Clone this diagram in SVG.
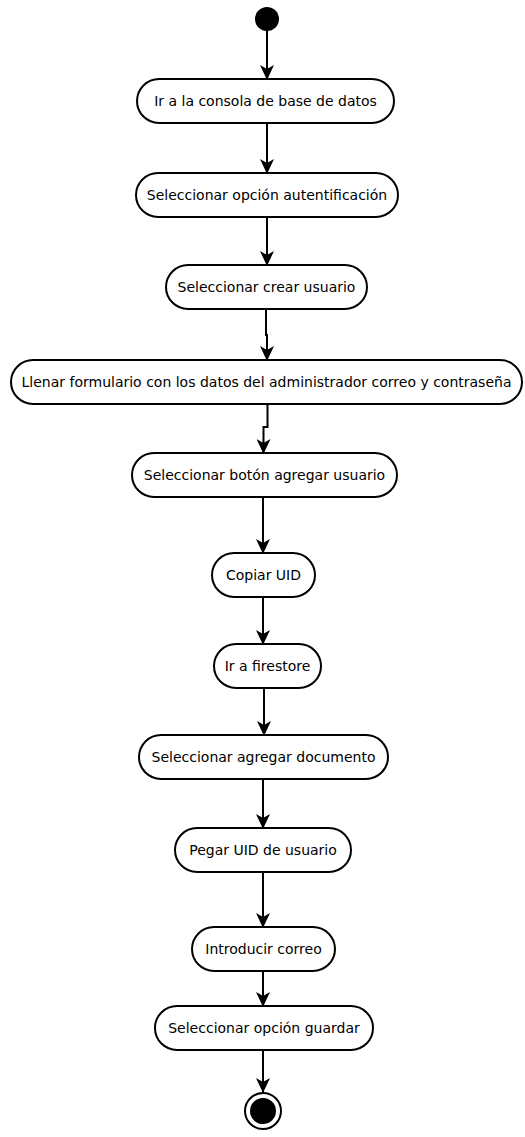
<svg xmlns="http://www.w3.org/2000/svg" width="525" height="1137" viewBox="0 0 525 1137">
  <style>
    .node rect { fill: #ffffff; stroke: #000000; stroke-width: 2; }
    .node text { font-family: "DejaVu Sans", Verdana, sans-serif; font-size: 14px; fill: #000000; text-anchor: middle; dominant-baseline: central; }
    .edge { fill: none; stroke: #000000; stroke-width: 2; marker-end: url(#arrow); }
  </style>
  <defs>
    <marker id="arrow" viewBox="0 0 15 14" refX="14" refY="7" markerWidth="15" markerHeight="14" markerUnits="userSpaceOnUse" orient="auto">
      <path d="M0,0 L15,7 L0,14 L4,7 z" fill="#000000"/>
    </marker>
  </defs>
  <rect width="525" height="1137" fill="#ffffff"/>

  <!-- connectors -->
  <g id="edges">
    <path class="edge" d="M267,31 V79"/>
    <path class="edge" d="M267,123 V173"/>
    <path class="edge" d="M267,217 V265"/>
    <path class="edge" d="M266,309 V335 H267 V360"/>
    <path class="edge" d="M267.5,404 V427 H263.5 V453"/>
    <path class="edge" d="M263,497 V553"/>
    <path class="edge" d="M263,597 V644"/>
    <path class="edge" d="M264,688 V735"/>
    <path class="edge" d="M263,779 V828"/>
    <path class="edge" d="M263,872 V927"/>
    <path class="edge" d="M263,971 V1006"/>
    <path class="edge" d="M263,1050 V1092"/>
  </g>

  <!-- start -->
  <g id="start">
    <circle cx="267" cy="19" r="12" fill="#000000"/>
  </g>

  <g id="n1" class="node">
    <rect x="137" y="79" width="257" height="44" rx="22"/>
    <text x="265.5" y="101">Ir a la consola de base de datos</text>
  </g>
  <g id="n2" class="node">
    <rect x="136" y="173" width="262" height="44" rx="22"/>
    <text x="267" y="195">Seleccionar opción autentificación</text>
  </g>
  <g id="n3" class="node">
    <rect x="166" y="265" width="201" height="44" rx="22"/>
    <text x="266.5" y="287">Seleccionar crear usuario</text>
  </g>
  <g id="n4" class="node">
    <rect x="11" y="360" width="511" height="44" rx="22"/>
    <text x="266.5" y="382">Llenar formulario con los datos del administrador correo y contraseña</text>
  </g>
  <g id="n5" class="node">
    <rect x="132" y="453" width="265" height="44" rx="22"/>
    <text x="264.5" y="475">Seleccionar botón agregar usuario</text>
  </g>
  <g id="n6" class="node">
    <rect x="212" y="553" width="103" height="44" rx="22"/>
    <text x="263.5" y="575">Copiar UID</text>
  </g>
  <g id="n7" class="node">
    <rect x="214" y="644" width="107" height="44" rx="22"/>
    <text x="267.5" y="666">Ir a firestore</text>
  </g>
  <g id="n8" class="node">
    <rect x="139" y="735" width="249" height="44" rx="22"/>
    <text x="263.5" y="757">Seleccionar agregar documento</text>
  </g>
  <g id="n9" class="node">
    <rect x="175" y="828" width="176" height="44" rx="22"/>
    <text x="263" y="850">Pegar UID de usuario</text>
  </g>
  <g id="n10" class="node">
    <rect x="192" y="927" width="143" height="44" rx="22"/>
    <text x="263.5" y="949">Introducir correo</text>
  </g>
  <g id="n11" class="node">
    <rect x="155" y="1006" width="218" height="44" rx="22"/>
    <text x="264" y="1028">Seleccionar opción guardar</text>
  </g>

  <!-- end -->
  <g id="end">
    <circle cx="263" cy="1111" r="18" fill="#ffffff" stroke="#000000" stroke-width="2"/>
    <circle cx="263" cy="1111" r="13" fill="#000000"/>
  </g>
</svg>
